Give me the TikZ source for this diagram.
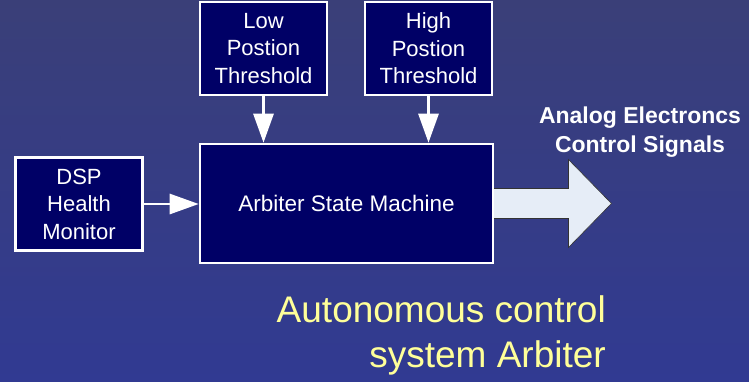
\documentclass[tikz,border=0pt]{standalone}
\usepackage{fontspec}
\setmainfont{Liberation Sans}
\usetikzlibrary{arrows.meta}
\usetikzlibrary{positioning}
\definecolor{bgtop}{HTML}{3A3F78}
\definecolor{bgbot}{HTML}{313A92}
\definecolor{boxfill}{HTML}{000066}
\definecolor{sigfill}{HTML}{E6EDF7}
\definecolor{titleyellow}{HTML}{FFFF99}
\tikzset{box/.style={draw=white, line width=2.6pt, fill=boxfill, text=white, align=center,
  inner sep=0pt, font=\fontsize{22}{27.5}\selectfont}}
\tikzset{arr/.style={draw=white, line width=2.8pt, -{Triangle[length=29pt, width=20pt]}, white}}
\tikzset{bigarrow/.style={draw=black!80, line width=0.6pt, fill=sigfill}}
\tikzset{sigtext/.style={text=white, align=center, font=\fontsize{23}{29}\selectfont\bfseries}}
\tikzset{title/.style={text=titleyellow, align=right, inner sep=0pt, font=\fontsize{37}{45}\selectfont}}

\begin{document}
\begin{tikzpicture}[x=1pt, y=-1pt]
        \shade [top color=bgtop, bottom color=bgbot] (0,0) rectangle (749,381);
        \useasboundingbox (0,0) rectangle (749,381);
        % boxes
        \node [box, minimum width=127pt, minimum height=93pt] (low) at (263.5, 48.5) {Low\\Postion\\Threshold};
        \node [box, minimum width=127pt, minimum height=93pt] (high) at (428.5, 48.5) {High\\Postion\\Threshold};
        \node [box, minimum width=127pt, minimum height=93pt] (dsp) at (79, 204) {DSP\\Health\\Monitor};
        \coordinate (c) at (346.5, 203.5);
        % output arrow
        \draw [bigarrow] (c) ++(146,-15) -- ++(76,0) -- ++(0,-29) -- ++(43,44) -- ++(-43,44)
            -- ++(0,-29) -- ++(-76,0) -- cycle;
        \node [box, minimum width=293pt, minimum height=119pt, font=\fontsize{22.5}{27.5}\selectfont] (asm) at (c) {Arbiter State Machine};
        % signals
        \draw [arr] (low.south) -- (low.south |- asm.north);
        \draw [arr] (high.south) -- (high.south |- asm.north);
        \draw [arr] (dsp.east) -- (dsp.east -| asm.west);
        \node [sigtext] (sig) at (640, 132) {Analog Electroncs\\Control Signals};
        \node [title, anchor=north east] (name) at (606, 295) {Autonomous control\\system Arbiter};
\end{tikzpicture}
\end{document}
